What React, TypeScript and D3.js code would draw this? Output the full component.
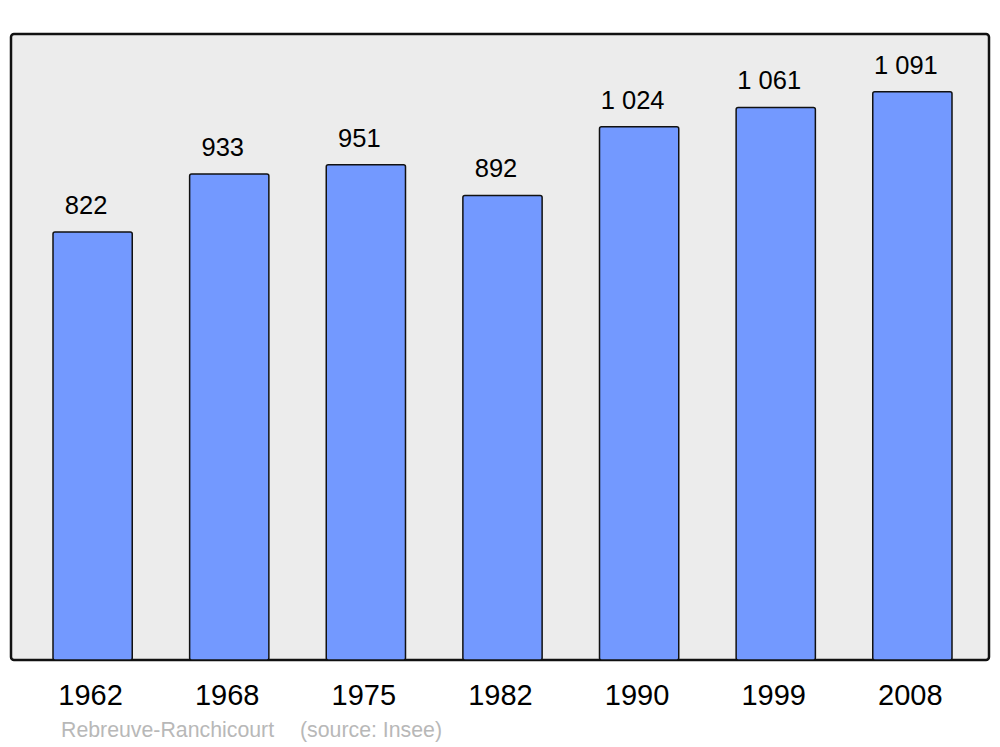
import React from "react";
import * as d3 from "d3";

const years = ["1962", "1968", "1975", "1982", "1990", "1999", "2008"];
const population = [822, 933, 951, 892, 1024, 1061, 1091];
const valueLabels = ["822", "933", "951", "892", "1 024", "1 061", "1 091"];
const sourceName = "Rebreuve-Ranchicourt";
const sourceNote = "(source: Insee)";

export default function App() {
  const W = 1000, H = 747;
  const panel = { x0: 11, x1: 989, y0: 34, y1: 660 };
  const x = d3.scaleBand<string>().domain(years).range([53, 952]).paddingInner(0.42).paddingOuter(0);
  const y = d3.scaleLinear().domain([0, 1202]).range([panel.y1, panel.y0]);
  const font = "'Liberation Sans', Arial, sans-serif";
  return (
    <svg width={W} height={H} style={{ position: "absolute", left: 0, top: 0, background: "#fff" }}>
      <rect x={panel.x0} y={panel.y0} width={panel.x1 - panel.x0} height={panel.y1 - panel.y0}
        rx={3} ry={3} fill="#ececec" stroke="#111" strokeWidth={2.5} />
      {years.map((yr, i) => {
        const bx = x(yr)!;
        const top = y(population[i]);
        const cx = bx + x.bandwidth() / 2;
        return (
          <g key={yr}>
            <rect x={bx} y={top} width={x.bandwidth()} height={panel.y1 - top} rx={2} ry={2}
              fill="#7399ff" stroke="#111" strokeWidth={1.5} />
            <text x={cx - 6.5} y={top - 18} textAnchor="middle" fontFamily={font}
              fontSize={25.5} fill="#000">{valueLabels[i]}</text>
            <text x={cx - 2} y={705} textAnchor="middle" fontFamily={font}
              fontSize={29} fill="#000">{yr}</text>
          </g>
        );
      })}
      <text x={61} y={737} fontFamily={font} fontSize={21.3} fill="#b8b8b8">{sourceName}</text>
      <text x={300} y={737} fontFamily={font} fontSize={21.3} fill="#b8b8b8">{sourceNote}</text>
    </svg>
  );
}
